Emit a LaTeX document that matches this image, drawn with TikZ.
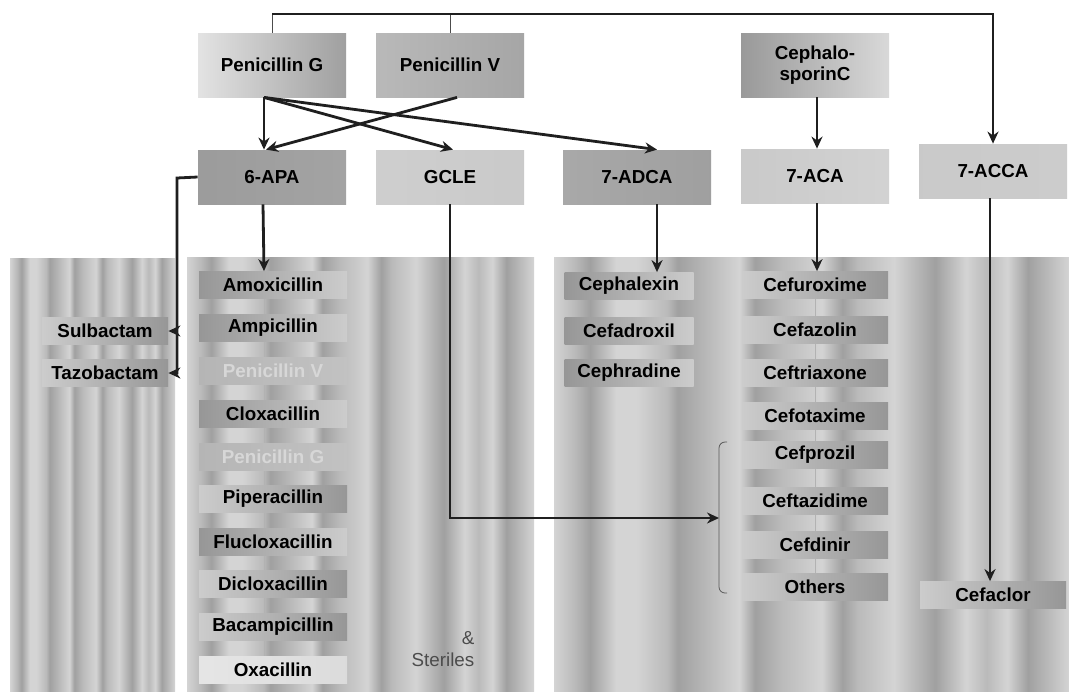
\documentclass[tikz,border=0pt]{standalone}
\usepackage{fontspec}
\setmainfont{Liberation Sans}
\usetikzlibrary{arrows.meta, positioning, calc}
\definecolor{pnllight}{RGB}{212, 212, 212}
\definecolor{pnlmid}{RGB}{186, 186, 186}
\definecolor{pnldark}{RGB}{160, 160, 160}
\definecolor{fadedtext}{RGB}{215, 215, 215}
\pgfdeclarehorizontalshading{streaks}{100bp}{
  color(0bp)=(pnllight); color(25bp)=(pnllight); color(27bp)=(pnlmid); color(28.5bp)=(pnldark);
  color(31bp)=(pnllight); color(33bp)=(pnllight); color(36bp)=(pnlmid); color(37bp)=(pnldark);
  color(40bp)=(pnlmid); color(43bp)=(pnllight); color(44.5bp)=(pnldark); color(47bp)=(pnlmid);
  color(51bp)=(pnllight); color(53bp)=(pnldark); color(54.5bp)=(pnlmid); color(58bp)=(pnllight);
  color(60bp)=(pnlmid); color(62bp)=(pnldark); color(65bp)=(pnllight); color(67bp)=(pnlmid);
  color(69bp)=(pnllight); color(71bp)=(pnldark); color(73bp)=(pnlmid); color(75bp)=(pnllight);
  color(100bp)=(pnllight)}
\pgfdeclarelayer{panels}
\pgfdeclarelayer{guides}
\pgfsetlayers{panels,guides,main}
\tikzset{
  hdr/.style    = {rectangle, minimum width=74pt, minimum height=32pt, inner sep=1pt, align=center, font=\bfseries\fontsize{9.4}{10.5}\selectfont},
  mid/.style    = {hdr, minimum height=27pt},
  drug/.style   = {rectangle, minimum width=74pt, minimum height=13.5pt, inner sep=0pt, font=\bfseries\fontsize{9.4}{10.5}\selectfont},
  darkleft/.style  = {left color=gray!82, right color=gray!40},
  darkright/.style = {left color=gray!40, right color=gray!82},
  faded/.style  = {left color=gray!58, right color=gray!48, text=fadedtext},
  panel/.style  = {shading=streaks},
  flow/.style   = {-{Stealth[length=6pt,width=5.5pt]}, line width=1.4pt, black!88},
  tick/.style   = {thin, black!70},
  faint/.style  = {thin, gray!60},
  brace/.style  = {thin, black!65, rounded corners=3pt},
}
\begin{document}
\begin{tikzpicture}[x=0.5pt, y=-0.5pt]

\useasboundingbox (0,0) rectangle (1069,691);

% hintergrundflaechen
\begin{pgfonlayer}{panels}
\fill[white] (0,0) rectangle (1069,691);
\path[panel] (10,258) rectangle (175,691);
\path[panel] (187,257) rectangle (534,691);
\path[panel] (554,257) rectangle (1069,691);
\end{pgfonlayer}

% ausgangsstoffe
\node[hdr, left color=gray!22, right color=gray!75] (pen_g) at (272,65) {Penicillin G};
\node[hdr, left color=gray!55, right color=gray!70] (pen_v) at (450,65) {Penicillin V};
\node[hdr, left color=gray!80, right color=gray!30] (ceph_c) at (815,65) {Cephalo-\\sporinC};

% zwischenprodukte
\node[mid, left color=gray!78, middle color=gray!32, right color=gray!72] (six_apa) at (272,177) {6-APA};
\node[mid, left color=gray!38, middle color=gray!68, right color=gray!42] (gcle) at (450,177) {GCLE};
\node[mid, left color=gray!68, middle color=gray!35, right color=gray!75] (adca) at (637,177) {7-ADCA};
\node[mid, left color=gray!42, middle color=gray!72, right color=gray!35] (aca) at (815,176) {7-ACA};
\node[mid, left color=gray!42, middle color=gray!72, right color=gray!40] (acca) at (993,171) {7-ACCA};

% inhibitoren
\node[drug, darkright, minimum width=63pt] (sulbactam) at (105,331) {Sulbactam};
\node[drug, darkright, minimum width=63pt] (tazobactam) at (105,373) {Tazobactam};

% penicilline
\node[drug, darkleft] (amox) at (273,285) {Amoxicillin};
\node[drug, darkleft] (ampi) at (273,328) {Ampicillin};
\node[drug, faded] (pen_v_item) at (273,371) {Penicillin V};
\node[drug, darkleft] (cloxa) at (273,414) {Cloxacillin};
\node[drug, faded] (pen_g_item) at (273,457) {Penicillin G};
\node[drug, darkright] (pipera) at (273,499) {Piperacillin};
\node[drug, darkleft] (fluclox) at (273,542) {Flucloxacillin};
\node[drug, darkright] (diclox) at (273,584) {Dicloxacillin};
\node[drug, darkright] (bacampi) at (273,627) {Bacampicillin};
\node[drug, left color=gray!20, right color=gray!28] (oxa) at (273,670) {Oxacillin};
\node[font=\fontsize{9.4}{11}\selectfont, text=black!70, align=right] (steriles) at (443,649) {\&\\Steriles};

% cephalosporine aus 7-ADCA
\node[drug, darkleft, minimum width=64.5pt] (cephalexin) at (629,286) {Cephalexin};
\node[drug, darkleft, minimum width=64.5pt] (cefadroxil) at (629,331) {Cefadroxil};
\node[drug, darkleft, minimum width=64.5pt] (cephradine) at (629,373) {Cephradine};

% cephalosporine aus 7-ACA
\node[drug, darkright, minimum width=73pt] (cefurox) at (815,285) {Cefuroxime};
\node[drug, darkright, minimum width=73pt] (cefazol) at (815,330) {Cefazolin};
\node[drug, darkright, minimum width=73pt] (ceftriax) at (815,373) {Ceftriaxone};
\node[drug, darkright, minimum width=73pt] (cefotax) at (815,416) {Cefotaxime};
\node[drug, darkright, minimum width=73pt] (cefproz) at (815,455) {Cefprozil};
\node[drug, darkright, minimum width=73pt] (ceftaz) at (815,501) {Ceftazidime};
\node[drug, darkright, minimum width=73pt] (cefdin) at (815,545) {Cefdinir};
\node[drug, darkright, minimum width=73pt] (others) at (815,587) {Others};

% aus 7-ACCA
\node[drug, darkright, minimum width=73pt] (cefaclor) at (993,595) {Cefaclor};

% hilfspunkte
\coordinate (bus) at (0,14);
\coordinate (apa_bend) at (177,178);
\coordinate (brace_top) at (727,442);
\coordinate (brace_bot) at (727,593);
\coordinate (brace_mid) at (719,518);

% schwache linien hinter den listen
\begin{pgfonlayer}{guides}
\draw[faint] ([xshift=-4.5pt]amox.south) -- ([xshift=-4.5pt]oxa.north);
\draw[faint] (cefurox.south) -- (others.north);
\end{pgfonlayer}

% klammer
\draw[brace] (brace_top) -- (brace_top -| brace_mid) -- (brace_bot -| brace_mid) -- (brace_bot);

% pfeile: oberste leitung
\draw[tick] (pen_g.north) -- (pen_g.north |- bus);
\draw[tick] (pen_v.north) -- (pen_v.north |- bus);
\draw[flow] (pen_g.north |- bus) -| (acca.north);

% pfeile: ausgangsstoffe -> zwischenprodukte
\draw[flow] ([xshift=-4pt]pen_g.south) -- ([xshift=-4pt]six_apa.north);
\draw[flow] ([xshift=-4pt]pen_g.south) -- ([xshift=1.5pt]gcle.north);
\draw[flow] ([xshift=-4pt]pen_g.south) -- ([xshift=10pt]adca.north);
\draw[flow] ([xshift=3.5pt]pen_v.south) -- ([xshift=-3pt]six_apa.north);
\draw[flow] ([xshift=1pt]ceph_c.south) -- ([xshift=1pt]aca.north);

% pfeile: zwischenprodukte -> wirkstoffe
\draw[flow] ([xshift=-4.5pt]six_apa.south) -- ([xshift=-4.5pt]amox.north);
\draw[flow] (six_apa.west) -- (apa_bend) |- (tazobactam.east);
\draw[flow] (apa_bend) |- (sulbactam.east);
\draw[flow] (gcle.south) |- (brace_mid);
\draw[flow] ([xshift=10pt]adca.south) -- ([xshift=10pt]adca.south |- cephalexin.north);
\draw[flow] ([xshift=1pt]aca.south) -- ([xshift=1pt]cefurox.north);
\draw[flow] ([xshift=-1.5pt]acca.south) -- ([xshift=-1.5pt]cefaclor.north);

\end{tikzpicture}
\end{document}
